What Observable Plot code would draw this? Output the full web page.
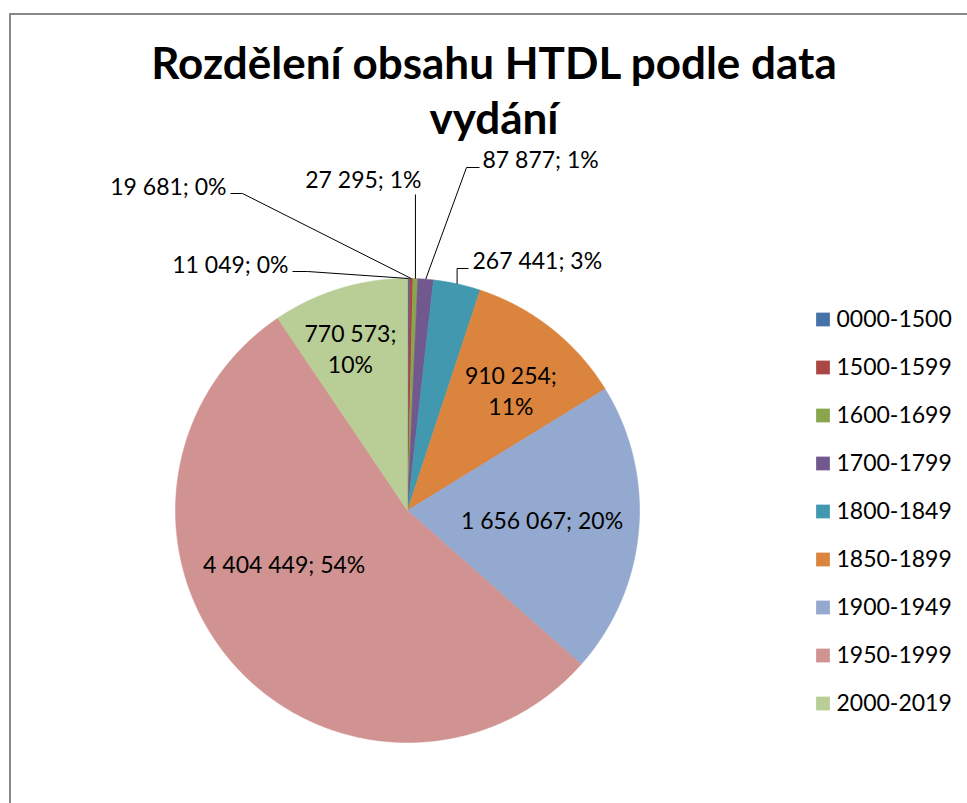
<!DOCTYPE html>
<html>
<head>
<meta charset="utf-8">
<script src="https://cdn.jsdelivr.net/npm/d3@7"></script>
<script src="https://cdn.jsdelivr.net/npm/@observablehq/plot@0.6"></script>
<style>
  html, body { margin: 0; padding: 0; background: #fff; }
  #chart { position: relative; width: 967px; height: 803px; overflow: hidden; background: #fff; font-family: Lato, "Open Sans", sans-serif; }
  #frame { position: absolute; left: 9px; top: 13px; right: -10px; bottom: -10px; border-top: 2px solid #888; border-left: 2px solid #888; }
  #title { position: absolute; left: 0; width: 988px; top: 35px; text-align: center; font-family: Lato, sans-serif; font-weight: bold; font-size: 44px; line-height: 55px; color: #000; }
  #pie { position: absolute; left: 0; top: 140px; }
  #legend { position: absolute; left: 800px; top: 294px; }
</style>
</head>
<body>
<div id="chart">
  <div id="frame"></div>
  <div id="title">Rozdělení obsahu HTDL podle data<br>vydání</div>
  <div id="pie"></div>
  <div id="legend"></div>
</div>
<script>
// ---- data ----
const categories = ["0000-1500","1500-1599","1600-1699","1700-1799","1800-1849","1850-1899","1900-1949","1950-1999","2000-2019"];
const counts = [11049, 19681, 27295, 87877, 267441, 910254, 1656067, 4404449, 770573];
const percentLabels = ["0%","0%","1%","1%","3%","11%","20%","54%","10%"];
const colors = ["#4572A7","#AA4643","#89A54E","#71588F","#4198AF","#DB843D","#93A9CF","#D19392","#B9CD96"];

// ---- layout (pixels) ----
const R = 232;                 // pie radius
const W = 790, H = 663;        // pie svg size
const CX = 407, CY = 370;      // pie centre inside svg
// inside labels: radius fraction and angle shift (deg) from slice mid-angle
const insideLayout = {
  5: {r: 0.687, shift: 2.1, twoLines: true},
  6: {r: 0.581, shift: -1.5, twoLines: false},
  7: {r: 0.578, shift: 18.1, twoLines: false},
  8: {r: 0.744, shift: -2.3, twoLines: true}
};
// outside labels: offsets from pie centre (px, y down); null x in a leader point = slice edge x
const outsideLayout = {
  0: {tx: -119, ty: -245, anchor: "end",   leader: [[-115, -239], [-100, -239]]},
  1: {tx: -181, ty: -323, anchor: "end",   leader: [[-177, -317], [-165, -317]]},
  2: {tx: 14,   ty: -330, anchor: "end",   leader: [[null, -316]]},
  3: {tx: 75,   ty: -350, anchor: "start", leader: [[72, -343], [59, -343]]},
  4: {tx: 65,   ty: -249, anchor: "start", leader: [[61, -242], [null, -242]]}
};

const fmt = d3.formatLocale({thousands: " ", grouping: [3], decimal: ","}).format(",d");
const arcs = d3.pie().sort(null)(counts);

// slice polygons in unit coordinates (y up)
const piePts = [];
arcs.forEach((a, i) => {
  const cat = categories[i];
  piePts.push({cat, x: 0, y: 0});
  const n = Math.max(2, Math.ceil((a.endAngle - a.startAngle) / (Math.PI / 720)));
  for (let k = 0; k <= n; k++) {
    const t = a.startAngle + (a.endAngle - a.startAngle) * k / n;
    piePts.push({cat, x: Math.sin(t), y: Math.cos(t)});
  }
  piePts.push({cat, x: 0, y: 0});
});

const labels = [];
const leaders = [];
arcs.forEach((a, i) => {
  const mid = (a.startAngle + a.endAngle) / 2;
  const cat = categories[i];
  if (insideLayout[i]) {
    const L = insideLayout[i];
    const t = mid + L.shift * Math.PI / 180;
    labels.push({
      x: L.r * Math.sin(t), y: L.r * Math.cos(t),
      text: fmt(counts[i]) + ";" + (L.twoLines ? "\n" : " ") + percentLabels[i],
      anchor: "middle"
    });
  } else if (outsideLayout[i]) {
    const L = outsideLayout[i];
    labels.push({x: L.tx / R, y: -L.ty / R, text: fmt(counts[i]) + "; " + percentLabels[i], anchor: L.anchor});
    const ex = Math.sin(mid), ey = Math.cos(mid);
    L.leader.forEach(([px, py]) => {
      leaders.push({cat, x: px === null ? ex : px / R, y: -py / R});
    });
    leaders.push({cat, x: ex, y: ey});
  }
});

const color = {domain: categories, range: colors};

const pie = Plot.plot({
  width: W, height: H,
  margin: 0,
  x: {domain: [-CX / R, (W - CX) / R], range: [0, W], axis: null},
  y: {domain: [-(H - CY) / R, CY / R], range: [H, 0], axis: null},
  color,
  style: {fontFamily: "Lato, 'Open Sans', sans-serif", background: "transparent", overflow: "visible"},
  marks: [
    Plot.line(piePts, {x: "x", y: "y", z: "cat", fill: "cat", stroke: "cat", strokeWidth: 0.6, strokeLinejoin: "round"}),
    Plot.line(leaders, {x: "x", y: "y", z: "cat", stroke: "#000", strokeWidth: 1, strokeLinecap: "butt"}),
    Plot.text(labels.filter(d => d.anchor === "middle"), {x: "x", y: "y", text: "text", textAnchor: "middle", fontSize: 23, lineHeight: 1.35, fill: "#000"}),
    Plot.text(labels.filter(d => d.anchor === "start"), {x: "x", y: "y", text: "text", textAnchor: "start", fontSize: 23, fill: "#000"}),
    Plot.text(labels.filter(d => d.anchor === "end"), {x: "x", y: "y", text: "text", textAnchor: "end", fontSize: 23, fill: "#000"})
  ]
});
document.getElementById("pie").append(pie);

const legend = Plot.plot({
  width: 167, height: 433,
  margin: 0,
  y: {type: "band", domain: categories, range: [0, 433], padding: 0, axis: null},
  color,
  style: {fontFamily: "Lato, 'Open Sans', sans-serif", background: "transparent", overflow: "visible"},
  marks: [
    Plot.dot(categories, {y: d => d, frameAnchor: "left", dx: 22.5, symbol: "square", r: Math.sqrt(196 / Math.PI), fill: d => d, stroke: "#fff", strokeOpacity: 0.5, strokeWidth: 0.5}),
    Plot.text(categories, {y: d => d, frameAnchor: "left", dx: 36, text: d => d, textAnchor: "start", fontSize: 23, fill: "#000"})
  ]
});
document.getElementById("legend").append(legend);
</script>
</body>
</html>
